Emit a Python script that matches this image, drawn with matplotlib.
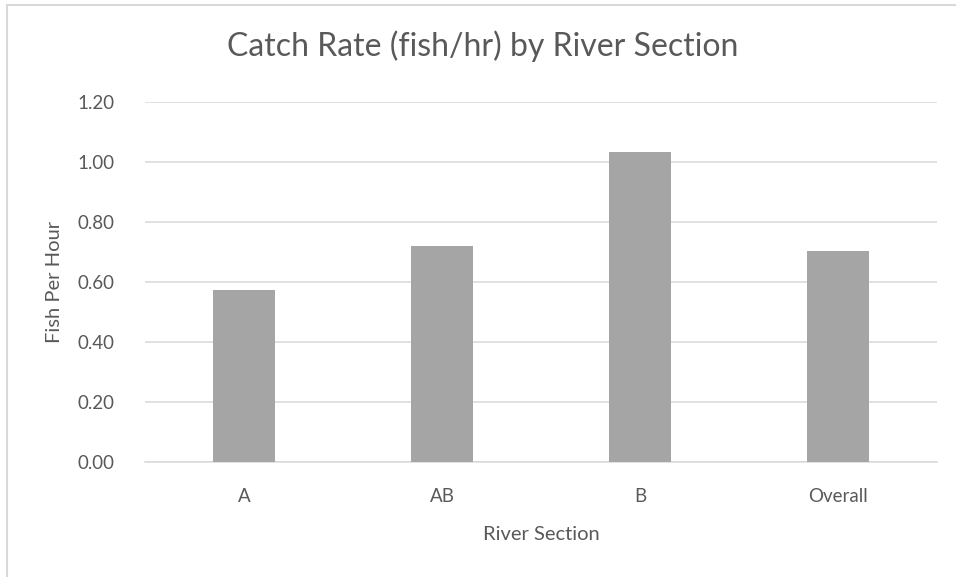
import matplotlib
matplotlib.use('Agg')
import matplotlib.pyplot as plt
from matplotlib.patches import Rectangle

# catch rate per river section
sections = ['A', 'AB', 'B', 'Overall']
fish_per_hour = [0.573, 0.72, 1.035, 0.704]
y_ticks = [0.0, 0.2, 0.4, 0.6, 0.8, 1.0, 1.2]

plt.rcParams['font.family'] = ['Lato', 'DejaVu Sans']
text_col = '#595959'
grid_col = '#d9d9d9'

fig = plt.figure(figsize=(9.56, 5.77), dpi=100)
ax = fig.add_axes([145 / 956, 115 / 577, 792 / 956, 360 / 577])

ax.bar(range(len(sections)), fish_per_hour, width=0.313, color='#a5a5a5', zorder=3)

ax.set_xlim(-0.5, len(sections) - 0.5)
ax.set_ylim(0, 1.2)
ax.set_yticks(y_ticks)
ax.set_yticklabels(['%.2f' % v for v in y_ticks])
ax.set_xticks(range(len(sections)))
ax.set_xticklabels(sections)
ax.yaxis.grid(True, color=grid_col, linewidth=1.1, zorder=0)
ax.tick_params(axis='both', length=0, labelsize=13.5, labelcolor=text_col)
ax.tick_params(axis='y', pad=22)
ax.tick_params(axis='x', pad=19)
for s in ['top', 'right', 'left']:
    ax.spines[s].set_visible(False)
ax.spines['bottom'].set_color(grid_col)
ax.spines['bottom'].set_linewidth(1.1)

ax.set_xlabel('River Section', fontsize=14.5, color=text_col, labelpad=15)
ax.set_ylabel('Fish Per Hour', fontsize=14.5, color=text_col, labelpad=10)
fig.text(0.505, 1 - 46 / 577, 'Catch Rate (fish/hr) by River Section',
         ha='center', va='center', fontsize=23, color=text_col)

# chart area border (only left and top edges fall inside the image)
fig.patches.append(Rectangle((7 / 956, -0.1), 1.2, 1 - 4.5 / 577 + 0.1,
                             transform=fig.transFigure, fill=False,
                             edgecolor=grid_col, linewidth=1.5))

fig.savefig('out.png', dpi=100)
